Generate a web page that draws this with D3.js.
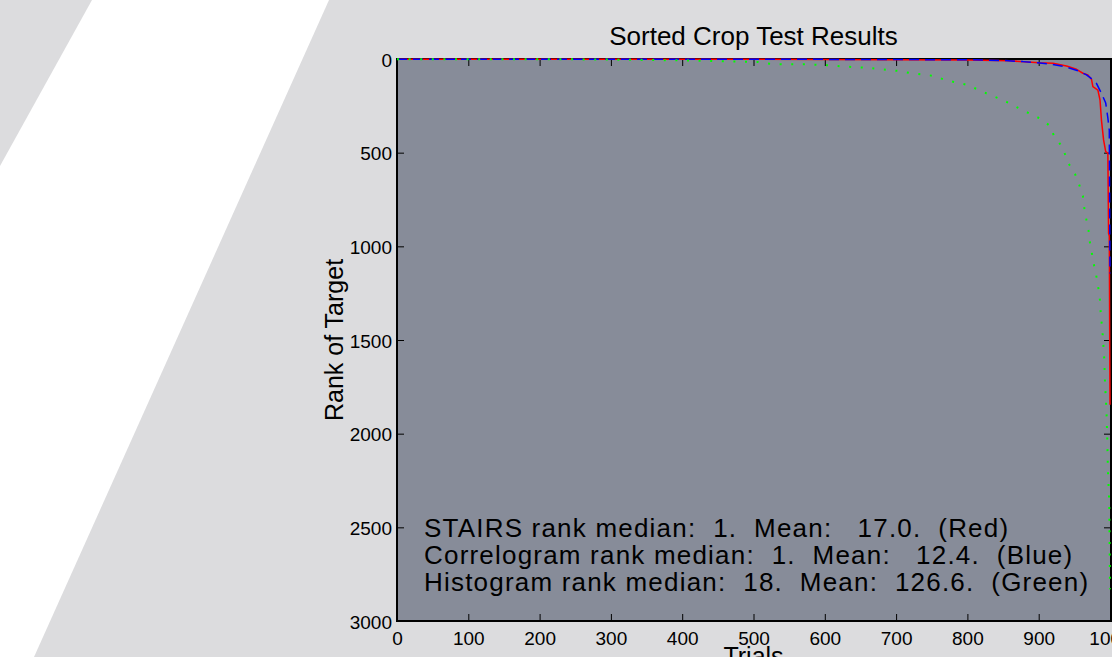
<!DOCTYPE html>
<html>
<head>
<meta charset="utf-8">
<script src="https://cdn.jsdelivr.net/npm/d3@7"></script>
<style>
  html, body { margin: 0; padding: 0; background: #dcdcde; overflow: hidden; }
  svg { display: block; font-family: "Liberation Sans", Arial, Helvetica, sans-serif; }
  text { white-space: pre; }
</style>
</head>
<body>
<svg id="chart" width="1112" height="657"></svg>
<script>
// Tick values
const xTicks = [0, 100, 200, 300, 400, 500, 600, 700, 800, 900, 1000];
const yTicks = [0, 500, 1000, 1500, 2000, 2500, 3000];

// STAIRS (red, solid) - sorted rank per trial
const stairsTrials = [0, 300, 600, 800, 860, 901, 920, 939, 953, 962, 969, 974, 976, 983, 986, 988, 991, 994, 997, 998, 999, 1000];
const stairsRanks  = [1, 1, 2, 5, 10, 20, 23, 37, 55, 76, 85, 108, 148, 166, 219, 326, 432, 495, 503, 930, 945, 1845];

// Correlogram (blue, dashed)
const correlTrials = [0, 300, 600, 800, 850, 878, 898, 916, 937, 955, 967, 974, 981, 988, 994, 997, 999, 1000];
const correlRanks  = [1, 1, 2, 4, 8, 14, 20, 27, 41, 63, 85, 105, 130, 183, 235, 315, 380, 1145];

// Histogram (green, dotted)
const histTrials = [0, 150, 250, 330, 392, 450, 506, 523, 540, 574, 606, 623, 639, 656, 673, 689, 705, 721, 737, 754, 769, 785, 801, 818, 833, 847, 861, 875, 889, 903, 916, 921, 930, 937, 943, 951, 957, 962, 964, 967, 970, 972, 975, 978, 981, 984, 986, 987, 990, 992, 993, 995, 996, 997, 999, 1000];
const histRanks  = [1, 1, 2, 4, 7, 11, 16, 25, 28, 28, 34, 39, 43, 46, 52, 59, 64, 76, 82, 91, 112, 126, 139, 169, 194, 215, 240, 269, 294, 320, 358, 406, 454, 509, 564, 614, 673, 731, 797, 860, 918, 984, 1046, 1109, 1162, 1230, 1290, 1358, 1483, 1607, 1731, 1874, 1998, 2185, 2372, 2830];

const summaryLines = [
  'STAIRS rank median:  1.  Mean:   17.0.  (Red)',
  'Correlogram rank median:  1.  Mean:   12.4.  (Blue)',
  'Histogram rank median:  18.  Mean:  126.6.  (Green)'
];

const svg = d3.select('#chart');

// decorative white band behind the figure
svg.append('polygon')
  .attr('points', '92,0 329,0 34,657 0,657 0,166')
  .attr('fill', '#ffffff');

const plot = { left: 397, right: 1110, top: 59, bottom: 621 };

const x = d3.scaleLinear().domain([0, 1000]).range([plot.left, plot.right]);
const y = d3.scaleLinear().domain([0, 3000]).range([plot.top, plot.bottom]);

// axes background
svg.append('rect')
  .attr('x', plot.left)
  .attr('y', plot.top)
  .attr('width', plot.right + 1 - plot.left)
  .attr('height', plot.bottom - plot.top)
  .attr('fill', '#878c99');

const TICK = 7;
const tickStyle = (g) => {
  g.select('.domain').remove();
  g.selectAll('.tick line').attr('stroke', '#000').attr('stroke-width', 1);
  g.selectAll('.tick text').attr('fill', '#000').style('font-size', '19px')
    .style('font-family', '"Liberation Sans", Arial, sans-serif');
};

// bottom axis (ticks point inward)
svg.append('g')
  .attr('transform', `translate(0,${plot.bottom})`)
  .call(d3.axisBottom(x).tickValues(xTicks).tickSize(-TICK).tickPadding(10).tickFormat(d3.format('d')))
  .call(tickStyle)
  .call((g) => g.selectAll('.tick text').attr('y', 24).attr('dy', null));

// top axis, ticks only
svg.append('g')
  .attr('transform', `translate(0,${plot.top})`)
  .call(d3.axisTop(x).tickValues(xTicks).tickSize(-TICK).tickFormat(''))
  .call(tickStyle);

// left axis
svg.append('g')
  .attr('transform', `translate(${plot.left},0)`)
  .call(d3.axisLeft(y).tickValues(yTicks).tickSize(-TICK).tickPadding(5).tickFormat(d3.format('d')))
  .call(tickStyle)
  .call((g) => g.selectAll('.tick text').attr('x', -5).attr('dy', '0.38em'));

// right axis, ticks only
svg.append('g')
  .attr('transform', `translate(${plot.right + 1},0)`)
  .call(d3.axisRight(y).tickValues(yTicks).tickSize(-TICK).tickFormat(''))
  .call(tickStyle);

// box
svg.append('rect')
  .attr('x', plot.left)
  .attr('y', plot.top)
  .attr('width', plot.right + 1 - plot.left)
  .attr('height', plot.bottom - plot.top)
  .attr('fill', 'none')
  .attr('stroke', '#000')
  .attr('stroke-width', 2);

const line = d3.line()
  .x((d) => x(d[0]))
  .y((d) => y(d[1]));

const series = [
  { t: stairsTrials, r: stairsRanks, color: '#ff0000', dash: null, width: 1.5 },
  { t: correlTrials, r: correlRanks, color: '#0000ff', dash: '10,6', width: 1.5 },
  { t: histTrials, r: histRanks, color: '#00ff00', dash: '2,9.6', width: 2 }
];

series.forEach((s) => {
  svg.append('path')
    .datum(s.t.map((t, i) => [t, s.r[i]]))
    .attr('d', line)
    .attr('fill', 'none')
    .attr('stroke', s.color)
    .attr('stroke-width', s.width)
    .attr('stroke-dasharray', s.dash)
    .attr('stroke-linejoin', 'round');
});

// summary text
svg.append('g')
  .selectAll('text')
  .data(summaryLines)
  .join('text')
  .attr('x', 424)
  .attr('y', (d, i) => 537 + i * 27)
  .style('font-size', '26px')
  .style('letter-spacing', '1.2px')
  .attr('fill', '#000')
  .text((d) => d);

// title and axis labels
svg.append('text')
  .attr('x', (plot.left + plot.right) / 2)
  .attr('y', 45)
  .attr('text-anchor', 'middle')
  .style('font-size', '26px')
  .text('Sorted Crop Test Results');

svg.append('text')
  .attr('transform', `translate(343,340) rotate(-90)`)
  .attr('text-anchor', 'middle')
  .style('font-size', '25px')
  .text('Rank of Target');

svg.append('text')
  .attr('x', (plot.left + plot.right) / 2)
  .attr('y', 665)
  .attr('text-anchor', 'middle')
  .style('font-size', '25px')
  .text('Trials');
</script>
</body>
</html>
